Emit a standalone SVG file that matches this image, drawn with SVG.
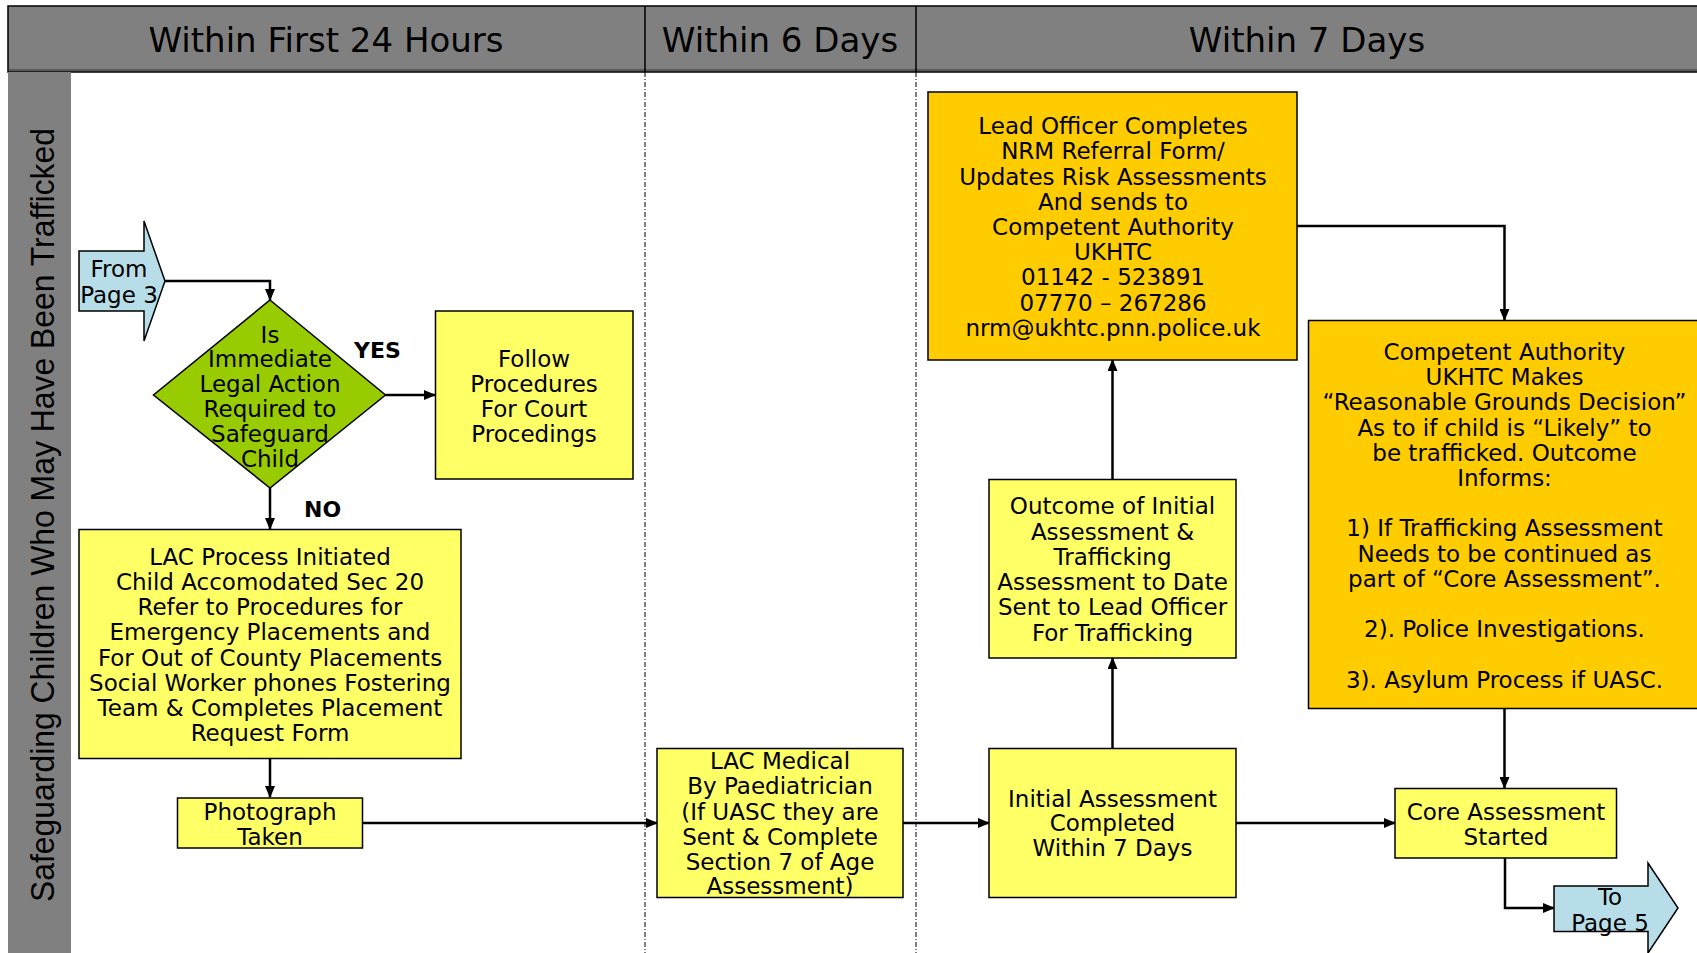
<svg xmlns="http://www.w3.org/2000/svg" width="1697" height="953" viewBox="0 0 1697 953">
<style>
.hdr{fill:#808080;stroke:#000;stroke-width:1.5}
.ht{font-family:"DejaVu Sans",sans-serif;font-size:34px;fill:#000;text-anchor:middle}
.lane{font-family:"Liberation Sans",Arial,sans-serif;font-size:33px;fill:#000;text-anchor:middle}
.t{font-family:"DejaVu Sans",sans-serif;font-size:23px;fill:#000;text-anchor:middle}
.lbl{font-family:"DejaVu Sans",sans-serif;font-size:22px;font-weight:bold;fill:#000}
.y{fill:#FFFF66;stroke:#000;stroke-width:1.5}
.o{fill:#FFCC00;stroke:#000;stroke-width:1.5}
.g{fill:#99CC00;stroke:#000;stroke-width:1.5}
.b{fill:#B7DEE8;stroke:#000;stroke-width:1.5}
.c{fill:none;stroke:#000;stroke-width:2.5}
.sep{stroke:#000;stroke-width:1;stroke-dasharray:5 2 1 2}
</style>
<defs>
<marker id="ah" markerUnits="userSpaceOnUse" markerWidth="12" markerHeight="10" refX="11" refY="5" orient="auto">
<path d="M0,0 L12,5 L0,10 z" fill="#000"/>
</marker>
</defs>
<rect width="1697" height="953" fill="#fff"/>
<g id="header">
<rect class="hdr" x="8" y="6" width="1695" height="66"/>
<line x1="8" y1="70" x2="1697" y2="70" stroke="#333" stroke-width="1"/>
<line x1="645" y1="6" x2="645" y2="72" stroke="#000" stroke-width="1.5"/>
<line x1="916" y1="6" x2="916" y2="72" stroke="#000" stroke-width="1.5"/>
<text class="ht" x="326" y="52">Within First 24 Hours</text>
<text class="ht" x="780" y="52">Within 6 Days</text>
<text class="ht" x="1307" y="52">Within 7 Days</text>
</g>
<g id="lane">
<rect x="8" y="72" width="63" height="881" fill="#808080"/>
<text class="lane" transform="translate(53.5,515) rotate(-90)" x="0" y="0" textLength="774" lengthAdjust="spacingAndGlyphs">Safeguarding Children Who May Have Been Trafficked</text>
</g>
<g id="separators">
<line class="sep" x1="645" y1="72" x2="645" y2="953"/>
<line class="sep" x1="916" y1="72" x2="916" y2="953"/>
</g>
<g id="connectors">
<path class="c" d="M165,281 H270 V300" marker-end="url(#ah)"/>
<path class="c" d="M385.5,395 H435" marker-end="url(#ah)"/>
<path class="c" d="M270,488 V529" marker-end="url(#ah)"/>
<path class="c" d="M270,758 V797" marker-end="url(#ah)"/>
<path class="c" d="M363,823 H657" marker-end="url(#ah)"/>
<path class="c" d="M903,823 H989" marker-end="url(#ah)"/>
<path class="c" d="M1112.5,748 V658" marker-end="url(#ah)"/>
<path class="c" d="M1112.5,479.5 V360" marker-end="url(#ah)"/>
<path class="c" d="M1297,226 H1504.5 V320" marker-end="url(#ah)"/>
<path class="c" d="M1504.5,708 V788" marker-end="url(#ah)"/>
<path class="c" d="M1236,823 H1395" marker-end="url(#ah)"/>
<path class="c" d="M1505,858 V908 H1554" marker-end="url(#ah)"/>
</g>
<g id="from-page-3">
<path class="b" d="M79,251 H144 V221 L165,281 L144,341 V311 H79 Z"/>
<text class="t" x="119" y="277">From</text>
<text class="t" x="119" y="303">Page 3</text>
</g>
<g id="decision">
<path class="g" d="M270,300 L385.5,395 L270,488 L153.5,395 Z"/>
<text class="t" x="270" y="343">Is</text>
<text class="t" x="270" y="367">Immediate</text>
<text class="t" x="270" y="392">Legal Action</text>
<text class="t" x="270" y="417">Required to</text>
<text class="t" x="270" y="442">Safeguard</text>
<text class="t" x="270" y="467">Child</text>
</g>
<g id="labels">
<text class="lbl" x="354" y="358">YES</text>
<text class="lbl" x="304" y="517">NO</text>
</g>
<g id="follow-procedures">
<rect class="y" x="435.5" y="311" width="197.5" height="168"/>
<text class="t" x="534" y="367">Follow</text>
<text class="t" x="534" y="392">Procedures</text>
<text class="t" x="534" y="417">For Court</text>
<text class="t" x="534" y="442">Procedings</text>
</g>
<g id="lac-process">
<rect class="y" x="79" y="529.5" width="382" height="229"/>
<text class="t" x="270" y="565">LAC Process Initiated</text>
<text class="t" x="270" y="590">Child Accomodated Sec 20</text>
<text class="t" x="270" y="615">Refer to Procedures for</text>
<text class="t" x="270" y="640">Emergency Placements and</text>
<text class="t" x="270" y="666">For Out of County Placements</text>
<text class="t" x="270" y="691">Social Worker phones Fostering</text>
<text class="t" x="270" y="716">Team &amp; Completes Placement</text>
<text class="t" x="270" y="741">Request Form</text>
</g>
<g id="photograph">
<rect class="y" x="177.5" y="798" width="185" height="50"/>
<text class="t" x="270" y="820">Photograph</text>
<text class="t" x="270" y="845">Taken</text>
</g>
<g id="lac-medical">
<rect class="y" x="657" y="748.5" width="246" height="149"/>
<text class="t" x="780" y="769">LAC Medical</text>
<text class="t" x="780" y="794">By Paediatrician</text>
<text class="t" x="780" y="820">(If UASC they are</text>
<text class="t" x="780" y="845">Sent &amp; Complete</text>
<text class="t" x="780" y="870">Section 7 of Age</text>
<text class="t" x="780" y="894">Assessment)</text>
</g>
<g id="initial-assessment">
<rect class="y" x="989" y="748.5" width="247" height="149"/>
<text class="t" x="1112.5" y="807">Initial Assessment</text>
<text class="t" x="1112.5" y="831">Completed</text>
<text class="t" x="1112.5" y="856">Within 7 Days</text>
</g>
<g id="outcome">
<rect class="y" x="989" y="479.5" width="247" height="178.5"/>
<text class="t" x="1112.5" y="514">Outcome of Initial</text>
<text class="t" x="1112.5" y="540">Assessment &amp;</text>
<text class="t" x="1112.5" y="565">Trafficking</text>
<text class="t" x="1112.5" y="590">Assessment to Date</text>
<text class="t" x="1112.5" y="615">Sent to Lead Officer</text>
<text class="t" x="1112.5" y="641">For Trafficking</text>
</g>
<g id="lead-officer">
<rect class="o" x="928" y="92" width="369" height="268"/>
<text class="t" x="1113" y="134">Lead Officer Completes</text>
<text class="t" x="1113" y="159">NRM Referral Form/</text>
<text class="t" x="1113" y="185">Updates Risk Assessments</text>
<text class="t" x="1113" y="210">And sends to</text>
<text class="t" x="1113" y="235">Competent Authority</text>
<text class="t" x="1113" y="260">UKHTC</text>
<text class="t" x="1113" y="285">01142 - 523891</text>
<text class="t" x="1113" y="311">07770 – 267286</text>
<text class="t" x="1113" y="336">nrm@ukhtc.pnn.police.uk</text>
</g>
<g id="competent-authority">
<rect class="o" x="1308.5" y="320.5" width="393" height="388"/>
<text class="t" x="1504.5" y="360">Competent Authority</text>
<text class="t" x="1504.5" y="385">UKHTC Makes</text>
<text class="t" x="1504.5" y="410">“Reasonable Grounds Decision”</text>
<text class="t" x="1504.5" y="436">As to if child is “Likely” to</text>
<text class="t" x="1504.5" y="461">be trafficked. Outcome</text>
<text class="t" x="1504.5" y="486">Informs:</text>
<text class="t" x="1504.5" y="536">1) If Trafficking Assessment</text>
<text class="t" x="1504.5" y="562">Needs to be continued as</text>
<text class="t" x="1504.5" y="587">part of “Core Assessment”.</text>
<text class="t" x="1504.5" y="637">2). Police Investigations.</text>
<text class="t" x="1504.5" y="688">3). Asylum Process if UASC.</text>
</g>
<g id="core-assessment">
<rect class="y" x="1395" y="788.5" width="221.5" height="69.5"/>
<text class="t" x="1506" y="820">Core Assessment</text>
<text class="t" x="1506" y="845">Started</text>
</g>
<g id="to-page-5">
<path class="b" d="M1554,886 H1648 V863 L1678,908 L1648,953 V931.5 H1554 Z"/>
<text class="t" x="1610" y="905">To</text>
<text class="t" x="1610" y="931">Page 5</text>
</g>
</svg>
